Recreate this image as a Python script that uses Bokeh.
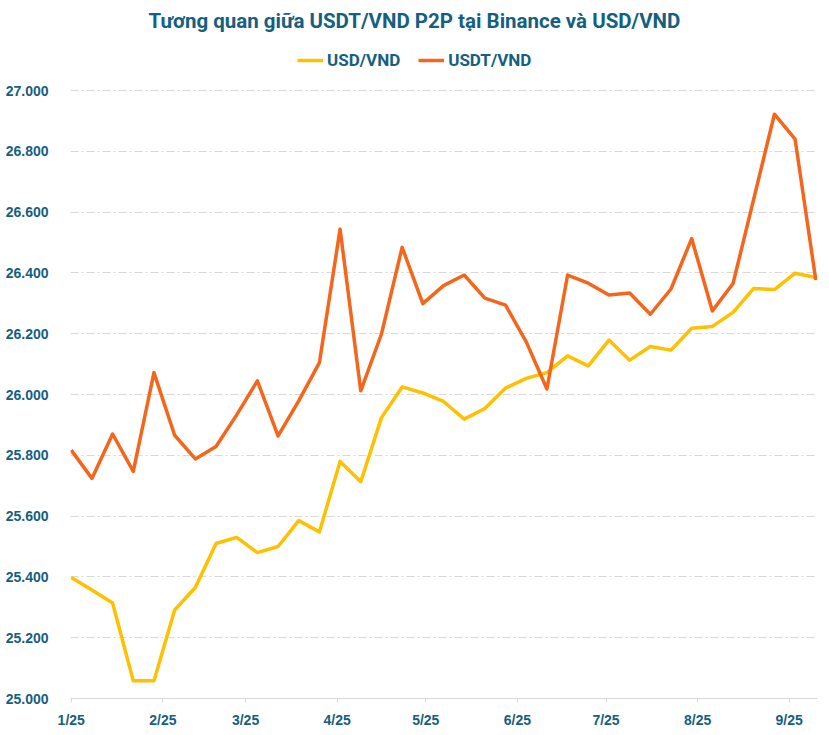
import pandas as pd
from bokeh.plotting import figure
from bokeh.models import (ColumnDataSource, Legend, LegendItem, FixedTicker,
                          CustomJSTickFormatter, Range1d, Label)
from bokeh.embed import file_html
from bokeh.resources import INLINE

# ---- data ----
dates = ["2025-01-01", "2025-01-08", "2025-01-15", "2025-01-22", "2025-01-29",
         "2025-02-05", "2025-02-12", "2025-02-19", "2025-02-26",
         "2025-03-05", "2025-03-12", "2025-03-19", "2025-03-26",
         "2025-04-02", "2025-04-09", "2025-04-16", "2025-04-23", "2025-04-30",
         "2025-05-07", "2025-05-14", "2025-05-21", "2025-05-28",
         "2025-06-04", "2025-06-11", "2025-06-18", "2025-06-25",
         "2025-07-02", "2025-07-09", "2025-07-16", "2025-07-23", "2025-07-30",
         "2025-08-06", "2025-08-13", "2025-08-20", "2025-08-27",
         "2025-09-03", "2025-09-10"]
usd_vnd = [25398, 25357, 25314, 25058, 25058, 25291, 25365, 25510, 25530,
           25480, 25500, 25585, 25548, 25780, 25713, 25924, 26025, 26005,
           25977, 25919, 25954, 26021, 26053, 26072, 26127, 26094, 26179,
           26113, 26158, 26146, 26218, 26224, 26270, 26349, 26345, 26399, 26385]
usdt_vnd = [25817, 25724, 25870, 25747, 26072, 25866, 25788, 25829, 25933,
            26045, 25864, 25979, 26105, 26544, 26012, 26199, 26484, 26299,
            26358, 26393, 26317, 26294, 26173, 26018, 26393, 26366, 26327,
            26334, 26264, 26347, 26513, 26275, 26365, 26643, 26922, 26840, 26377]
month_ticks = ["2025-01-01", "2025-02-01", "2025-03-01", "2025-04-01", "2025-05-01",
               "2025-06-01", "2025-07-01", "2025-08-01", "2025-09-01"]
month_labels = ["1/25", "2/25", "3/25", "4/25", "5/25", "6/25", "7/25", "8/25", "9/25"]
y_ticks = [25000, 25200, 25400, 25600, 25800, 26000, 26200, 26400, 26600, 26800, 27000]

title_text = "Tương quan giữa USDT/VND P2P tại Binance và USD/VND"

TEAL = "#14607F"
YELLOW = "#FFC000"
ORANGE = "#F4661B"
GRID = "#D9D9D9"

W, H = 829, 735
LEFT, RIGHT, BOTTOM = 70, 12, 37
FRAME_H = H - BOTTOM            # frame runs from the canvas top to the x axis
TOP_PAD = 90                    # pixels between canvas top and the 27.000 line
PX_PER_UNIT = (FRAME_H - TOP_PAD) / (y_ticks[-1] - y_ticks[0])

src = ColumnDataSource(dict(x=pd.to_datetime(dates), usd=usd_vnd, usdt=usdt_vnd))

x0 = pd.Timestamp(dates[0]) - pd.Timedelta(hours=6)
x1 = pd.Timestamp(dates[-1]) + pd.Timedelta(hours=14)
y0, y1 = y_ticks[0], y_ticks[-1] + TOP_PAD / PX_PER_UNIT

p = figure(width=W, height=H, x_axis_type="datetime",
           x_range=Range1d(x0, x1), y_range=Range1d(y0, y1),
           output_backend="svg", toolbar_location=None,
           min_border_left=LEFT, min_border_right=RIGHT, min_border_bottom=BOTTOM,
           min_border_top=0)
p.title.visible = False
p.outline_line_color = None
p.background_fill_color = "white"

r_usd = p.line("x", "usd", source=src, line_color=YELLOW, line_width=3.5, line_join="round")
r_usdt = p.line("x", "usdt", source=src, line_color=ORANGE, line_width=3.5, line_join="round")

# title (inside the top band of the frame)
title = Label(x=414 - LEFT, y=FRAME_H - 20, x_units="screen", y_units="screen",
              text=title_text, text_align="center", text_baseline="middle",
              text_font="Roboto", text_font_style="bold", text_font_size="20.5px",
              text_color=TEAL)
p.add_layout(title)

legend = Legend(items=[LegendItem(label="USD/VND", renderers=[r_usd]),
                       LegendItem(label="USDT/VND", renderers=[r_usdt])],
                orientation="horizontal", location=(297 - LEFT, FRAME_H - 58 - 12),
                label_text_font="Roboto", label_text_font_style="bold",
                label_text_font_size="17px", label_text_color=TEAL,
                glyph_width=26, glyph_height=20, label_height=20,
                label_standoff=4, spacing=18,
                border_line_color=None, background_fill_alpha=0,
                padding=2, margin=0)
p.add_layout(legend, "center")

# axes
ms = [pd.Timestamp(d).value // 10**6 for d in month_ticks]
p.xaxis.ticker = FixedTicker(ticks=ms)
p.xaxis.formatter = CustomJSTickFormatter(args=dict(tvals=ms, labs=month_labels), code="""
    let best = 0, bd = Infinity;
    for (let i = 0; i < tvals.length; i++) {
        const d = Math.abs(tvals[i] - tick);
        if (d < bd) { bd = d; best = i; }
    }
    return labs[best];
""")
p.xaxis.axis_line_color = GRID
p.xaxis.major_tick_line_color = GRID
p.xaxis.major_tick_out = 4
p.xaxis.major_tick_in = 0
p.xaxis.minor_tick_line_color = None
p.xaxis.major_label_text_font = "Liberation Sans"
p.xaxis.major_label_text_font_style = "bold"
p.xaxis.major_label_text_font_size = "14px"
p.xaxis.major_label_text_color = TEAL
p.xaxis.major_label_standoff = 9

p.yaxis.ticker = FixedTicker(ticks=y_ticks)
p.yaxis.formatter = CustomJSTickFormatter(code="""
    return Math.round(tick).toString().replace(/\\B(?=(\\d{3})+(?!\\d))/g, ".");
""")
p.yaxis.axis_line_color = None
p.yaxis.major_tick_line_color = None
p.yaxis.minor_tick_line_color = None
p.yaxis.major_label_text_font = "Liberation Sans"
p.yaxis.major_label_text_font_style = "bold"
p.yaxis.major_label_text_font_size = "14px"
p.yaxis.major_label_text_color = TEAL
p.yaxis.major_label_standoff = 16

p.xgrid.grid_line_color = None
p.ygrid.ticker = FixedTicker(ticks=y_ticks[1:])
p.ygrid.grid_line_color = GRID
p.ygrid.grid_line_width = 1
p.ygrid.grid_line_dash = "8 3 2 3"

open("out.html", "w").write(file_html(p, INLINE))
